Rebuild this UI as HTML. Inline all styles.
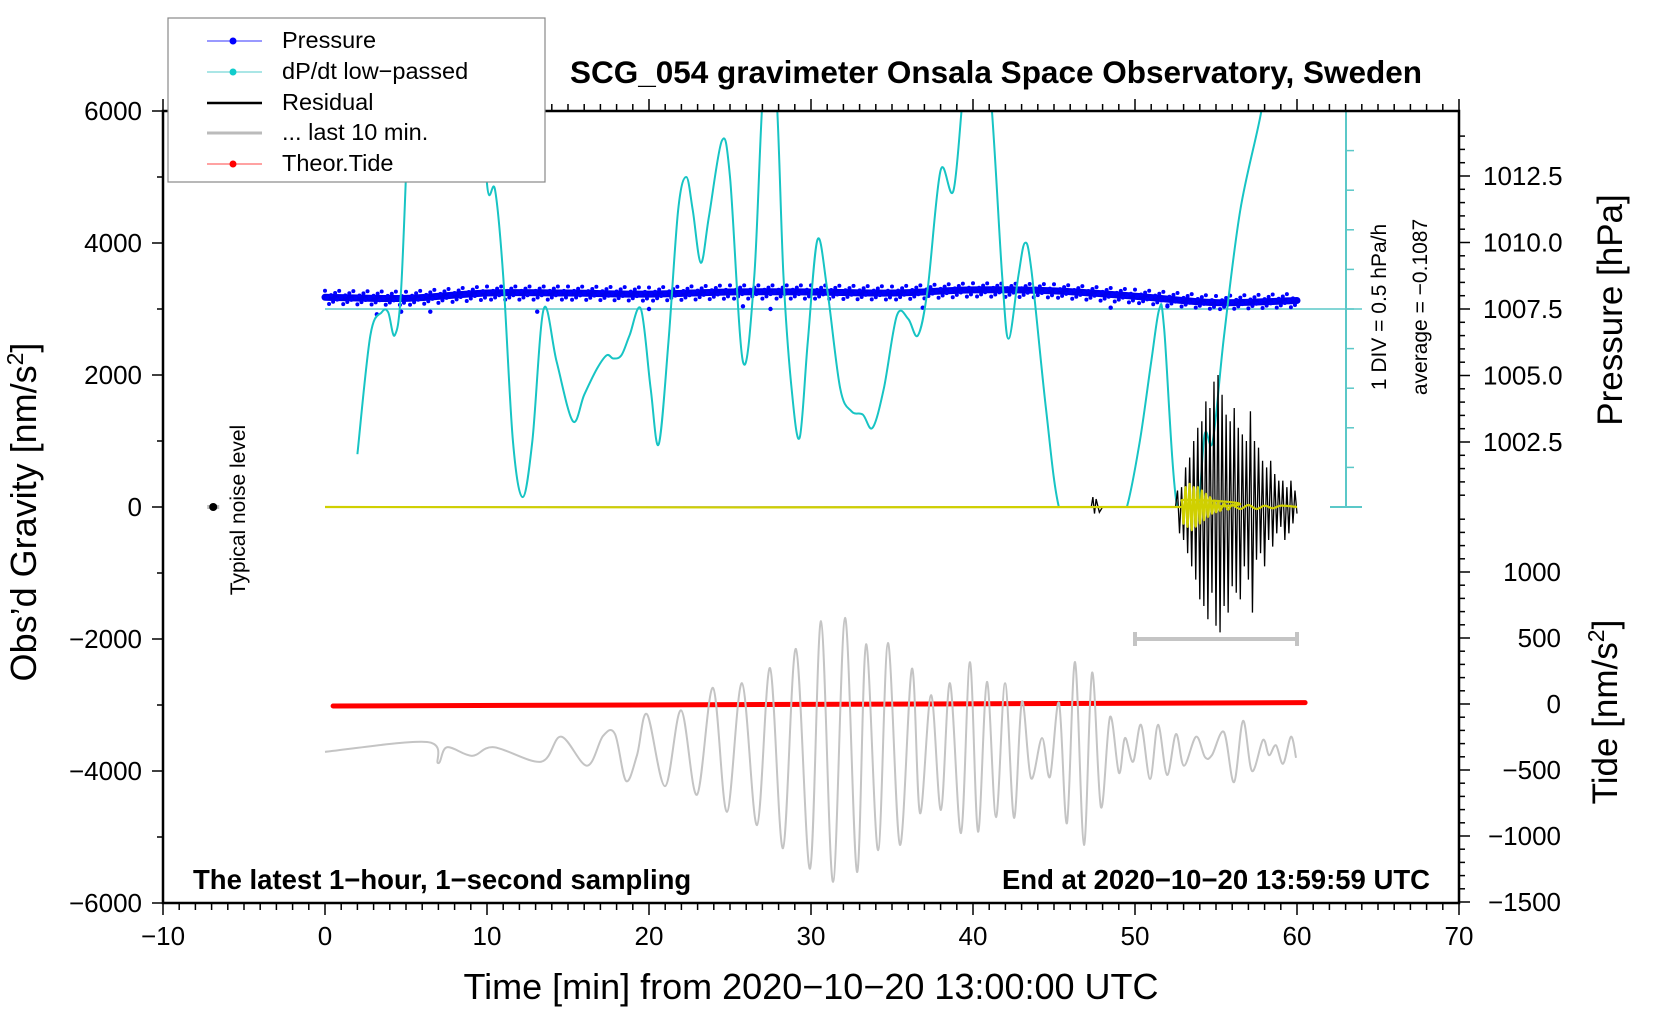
<!DOCTYPE html>
<html><head><meta charset="utf-8"><style>
html,body{margin:0;padding:0;background:#fff;}
svg{display:block;font-family:"Liberation Sans",Arial,sans-serif;}
</style></head><body>
<svg id="chart" width="1660" height="1020" viewBox="0 0 1660 1020" xmlns="http://www.w3.org/2000/svg">
<defs><clipPath id="cyclip"><rect x="163" y="111" width="1296" height="397"/></clipPath></defs>
<g id="marks"></g>
<g id="axes"></g>
<g id="texts">
<text x="996" y="83" font-size="31.5" font-weight="bold" text-anchor="middle">SCG_054 gravimeter Onsala Space Observatory, Sweden</text>
<text x="193" y="889" font-size="27.5" font-weight="bold">The latest 1−hour, 1−second sampling</text>
<text x="1430" y="889" font-size="27.5" font-weight="bold" text-anchor="end">End at 2020−10−20 13:59:59 UTC</text>
<text x="811" y="999" font-size="36" text-anchor="middle">Time [min] from 2020−10−20 13:00:00 UTC</text>
<text transform="translate(36,512) rotate(-90)" font-size="36" text-anchor="middle">Obs’d Gravity [nm/s<tspan font-size="23" dy="-13">2</tspan><tspan dy="13">]</tspan></text>
<text transform="translate(1622,310) rotate(-90)" font-size="35" text-anchor="middle">Pressure [hPa]</text>
<text transform="translate(1617,712) rotate(-90)" font-size="35" text-anchor="middle">Tide [nm/s<tspan font-size="23" dy="-13">2</tspan><tspan dy="13">]</tspan></text>
<text transform="translate(1386,307) rotate(-90)" font-size="21" text-anchor="middle">1 DIV = 0.5 hPa/h</text>
<text transform="translate(1427,307) rotate(-90)" font-size="21" text-anchor="middle">average = −0.1087</text>
<text transform="translate(245,510) rotate(-90)" font-size="21" text-anchor="middle">Typical noise level</text>
</g>
<g id="legend">
<rect x="168" y="18" width="377" height="164" fill="#fff" stroke="#888" stroke-width="1.2"/>
<g><line x1="207" y1="41" x2="262" y2="41" stroke="#33f" stroke-width="1"/><circle cx="233" cy="41" r="3.5" fill="#00f"/><text x="282" y="48" font-size="23.5">Pressure</text></g>
<g><line x1="207" y1="72" x2="262" y2="72" stroke="#5cc" stroke-width="1"/><circle cx="233" cy="72" r="3.5" fill="#1cc"/><text x="282" y="79" font-size="23.5">dP/dt low−passed</text></g>
<g><line x1="207" y1="103" x2="262" y2="103" stroke="#000" stroke-width="2.5"/><text x="282" y="110" font-size="23.5">Residual</text></g>
<g><line x1="207" y1="133" x2="262" y2="133" stroke="#bbb" stroke-width="3"/><text x="282" y="140" font-size="23.5">... last 10 min.</text></g>
<g><line x1="207" y1="164" x2="262" y2="164" stroke="#f44" stroke-width="1"/><circle cx="233" cy="164" r="3.5" fill="#f00"/><text x="282" y="171" font-size="23.5">Theor.Tide</text></g>
</g>
</svg>
<script>
// ---- data ----
const xTicks = [-10,0,10,20,30,40,50,60,70];
const gTicks = [6000,4000,2000,0,-2000,-4000,-6000];
const pTicks = [1012.5,1010.0,1007.5,1005.0,1002.5];
const tideTicks = [1000,500,0,-500,-1000,-1500];
const cyanT = [2,2.8,3.5,3.9,4.3,4.7,5.2,5.6,9.5,10,10.5,11,11.6,12.2,12.8,13.5,14.3,15.3,16,16.8,17.4,17.8,18.3,18.8,19.5,20.1,20.6,21.2,21.8,22.3,22.7,23.2,23.7,24.5,25,25.8,26.5,27.1,27.8,28.3,28.8,29.3,29.8,30.4,31,31.8,32.5,33.2,33.8,34.5,35.3,36,36.6,37.2,38,38.8,39.5,40.2,41,41.8,42.2,42.8,43.2,43.6,44.5,45.3,46.5,48.5,49.5,50.3,51,51.5,51.8,52.6,53.8,54.3,54.8,55.5,56.5,57.8,58.3];
const cyanG = [800,2600,2950,2950,2600,3300,6200,7500,7500,4900,4800,3500,1000,150,1000,3000,2200,1300,1700,2100,2300,2250,2300,2600,3000,1800,950,2500,4500,5000,4500,3700,4400,5550,5000,2200,3500,6500,6500,3500,1800,1050,2500,4050,3300,1800,1450,1400,1200,1800,2900,2850,2600,3300,5100,4800,6500,7000,6500,3500,2550,3500,4000,3600,1500,0,-600,-600,0,1000,2200,3000,2700,0,-100,1100,1000,2600,4500,6000,7000];
const presT = [0,5,10,15,20,25,30,35,40,45,50,55,60];
const presH = [1007.94,1007.90,1008.10,1008.10,1008.06,1008.14,1008.14,1008.10,1008.22,1008.18,1007.98,1007.74,1007.82];
const presOutT = [3.2,4.7,6.5,13.1,20,25.8,27.5,36.9,48.5,52];
const presOutH = [1007.3,1007.4,1007.4,1007.4,1007.5,1007.6,1007.5,1007.55,1007.55,1007.6];
const grayT = [0,6.3,6.98,7.53,9.07,10.43,13.33,14.57,16.17,17.16,17.9,18.58,19.26,19.88,20.99,21.98,22.96,23.95,24.81,25.74,26.67,27.47,28.27,29.07,29.94,30.62,31.36,32.1,32.84,33.4,34.14,34.75,35.49,36.23,36.73,37.41,38.02,38.58,39.26,39.81,40.31,40.86,41.42,41.98,42.53,43.02,43.58,44.26,44.75,45.31,45.8,46.3,46.85,47.35,47.9,48.46,49.01,49.38,49.88,50.37,50.93,51.42,51.98,52.53,53.02,53.77,54.32,54.75,55.49,56.11,56.67,57.22,57.9,58.27,58.7,59.14,59.63,59.94];
const grayG = [-3710,-3560,-3880,-3640,-3770,-3640,-3860,-3480,-3920,-3470,-3440,-4150,-3760,-3140,-4230,-3080,-4360,-2740,-4620,-2670,-4820,-2440,-5170,-2150,-5480,-1730,-5680,-1680,-5530,-2080,-5200,-2060,-5120,-2450,-4640,-2850,-4590,-2670,-4940,-2350,-4920,-2650,-4700,-2670,-4710,-2950,-4110,-3500,-4090,-2970,-4790,-2350,-5120,-2510,-4550,-3180,-4030,-3500,-3860,-3300,-4120,-3300,-4060,-3440,-3920,-3480,-3790,-3760,-3410,-4170,-3240,-4000,-3530,-3760,-3610,-3890,-3480,-3800];
const resT = [0,47.3,47.4,47.5,47.6,47.8,48,52.5,52.625,52.75,52.875,53,53.125,53.25,53.375,53.5,53.625,53.75,53.875,54,54.125,54.25,54.375,54.5,54.625,54.75,54.875,55,55.125,55.25,55.375,55.5,55.625,55.75,55.875,56,56.125,56.25,56.375,56.5,56.625,56.75,56.875,57,57.125,57.25,57.375,57.5,57.625,57.75,57.875,58,58.125,58.25,58.375,58.5,58.625,58.75,58.875,59,59.125,59.25,59.375,59.5,59.625,59.75,59.875,60];
const resG = [0,0,150,-100,120,-80,0,0,250,-400,300,-500,600,-700,750,-900,1000,-1100,1200,-1400,1300,-1500,1600,-1700,1500,-1300,1900,-1800,2000,-1900,1700,-1500,1400,-1600,1300,-1200,1500,-1300,1200,-1400,1100,-900,1000,-1100,1450,-1600,1000,-800,900,-700,700,-900,600,-500,700,-600,500,-400,400,-300,400,-500,300,-400,400,-250,250,-100];
const yelT = [0,52.5,52.875,53,53.125,53.25,53.375,53.5,53.625,53.75,53.875,54,54.125,54.25,54.375,54.5,54.625,54.75,54.875,55,55.125,55.25,55.5,55.75,56,56.5,57,57.5,58,58.5,59,60];
const yelG = [0,0,100,-250,300,-300,350,-350,300,-300,300,-250,250,-200,200,-150,150,-100,100,-80,80,-60,50,-40,30,-30,30,-30,20,-20,20,0];
const tideT = [0.5,60.5];
const tideV = [-15,10];
const noiseT = [-6.9];
const noiseG = [0];
const barT = [50,60];
const barG = [-2000,-2000];

// ---- scales ----
const X = t => 325 + t*16.2;
const Yg = g => 507 - g*0.066;
const Yp = p => 309 - (p-1007.5)*26.6;
const Yt = v => 704 - v*0.132;
const NS = 'http://www.w3.org/2000/svg';
const marks = document.getElementById('marks');
const axes = document.getElementById('axes');
function mk(tag, attrs, parent){const e=document.createElementNS(NS,tag);for(const k in attrs)e.setAttribute(k,attrs[k]);(parent||marks).appendChild(e);return e;}
function smooth(pts){let d='M'+pts[0][0]+','+pts[0][1];for(let i=0;i<pts.length-1;i++){const p0=pts[Math.max(0,i-1)],p1=pts[i],p2=pts[i+1],p3=pts[Math.min(pts.length-1,i+2)];const c1x=p1[0]+(p2[0]-p0[0])/6,c1y=p1[1]+(p2[1]-p0[1])/6,c2x=p2[0]-(p3[0]-p1[0])/6,c2y=p2[1]-(p3[1]-p1[1])/6;d+=' C'+c1x+','+c1y+' '+c2x+','+c2y+' '+p2[0]+','+p2[1];}return d;}

let e;
e=mk('line',{x1:325,y1:Yp(1007.5),x2:1362,y2:Yp(1007.5),stroke:'#5bc8c8','stroke-width':1.5});


e=mk('line',{x1:1346,y1:111,x2:1346,y2:507,stroke:'#5bc8c8','stroke-width':2});


e=mk('line',{x1:1330,y1:507,x2:1362,y2:507,stroke:'#5bc8c8','stroke-width':2});


for(let i=0;i<=10;i++){const y=111+i*39.6;e=mk('line',{x1:1346,y1:y,x2:1354,y2:y,stroke:'#5bc8c8','stroke-width':1.5});

}

// pressure
const pp = presT.map((t,i)=>[X(t),Yp(presH[i])]);
e=mk('path',{d:smooth(pp),fill:'none',stroke:'#0000ee','stroke-width':7,'stroke-linecap':'round'});


presT.forEach((t,i)=>{if(i<presT.length-1){for(let k=0;k<40;k++){const tt=t+(presT[i+1]-t)*k/40,h=presH[i]+(presH[i+1]-presH[i])*k/40;const c=mk('circle',{cx:X(tt),cy:Yp(h)+((k*3%7)-3)*2.2,r:2,fill:'#00f'});

}}});
presOutT.forEach((t,i)=>{const c=mk('circle',{cx:X(t),cy:Yp(presOutH[i]),r:2.2,fill:'#00f'});

});

// cyan dP/dt
e=mk('path',{d:smooth(cyanT.map((t,i)=>[X(t),Yg(cyanG[i])])),fill:'none',stroke:'#17c4c4','stroke-width':2,'clip-path':'url(#cyclip)'});



// tide
e=mk('line',{x1:X(tideT[0]),y1:Yt(tideV[0]),x2:X(tideT[1]),y2:Yt(tideV[1]),stroke:'#f00','stroke-width':5,'stroke-linecap':'round'});



// gray last 10 min
e=mk('path',{d:smooth(grayT.map((t,i)=>[X(t),Yg(grayG[i])])),fill:'none',stroke:'#c4c4c4','stroke-width':2});



// residual
e=mk('polyline',{points:resT.map((t,i)=>X(t)+','+Yg(resG[i])).join(' '),fill:'none',stroke:'#000','stroke-width':1.3});


e=mk('path',{d:smooth(yelT.map((t,i)=>[X(t),Yg(yelG[i])])),fill:'none',stroke:'#d0d000','stroke-width':2.2});



// gray bar
e=mk('g',{});


mk('line',{x1:X(barT[0]),y1:Yg(barG[0]),x2:X(barT[1]),y2:Yg(barG[1]),stroke:'#c4c4c4','stroke-width':4},e);
mk('line',{x1:X(barT[0]),y1:Yg(barG[0])-7,x2:X(barT[0]),y2:Yg(barG[0])+7,stroke:'#c4c4c4','stroke-width':4},e);
mk('line',{x1:X(barT[1]),y1:Yg(barG[1])-7,x2:X(barT[1]),y2:Yg(barG[1])+7,stroke:'#c4c4c4','stroke-width':4},e);

// noise level
e=mk('line',{x1:X(noiseT[0])-6,y1:Yg(noiseG[0]),x2:X(noiseT[0])+6,y2:Yg(noiseG[0]),stroke:'#bbb','stroke-width':4});


e=mk('circle',{cx:X(noiseT[0]),cy:Yg(noiseG[0]),r:4,fill:'#000'});



// ---- axes ----
const L=163,R=1459,T=111,B=903;
e=mk('path',{d:`M${L},${T} H${R} V${B} H${L} Z`,fill:'none',stroke:'#000','stroke-width':2.5},axes);


for(let t=-10;t<=70;t++){const x=X(t),maj=t%10===0;
mk('line',{x1:x,y1:B,x2:x,y2:B+(maj?12:7),stroke:'#000','stroke-width':1.5},axes);
mk('line',{x1:x,y1:T,x2:x,y2:T-(maj?12:7),stroke:'#000','stroke-width':1.5},axes);}
xTicks.forEach(t=>{const tx=mk('text',{x:X(t),y:945,'font-size':26,'text-anchor':'middle'},axes);tx.textContent=String(t).replace('-','−');

});
for(let g=-6000;g<=6000;g+=1000){const y=Yg(g);mk('line',{x1:L,y1:y,x2:L-(g%2000===0?11:6),y2:y,stroke:'#000','stroke-width':1.5},axes);}
gTicks.forEach(g=>{const tx=mk('text',{x:142,y:Yg(g)+9,'font-size':26,'text-anchor':'end'},axes);tx.textContent=String(g).replace('-','−');

});
for(let p=1000;p<=1014;p+=0.5){const y=Yp(p);if(y<T-8||y>507)continue;const maj=Math.abs((p*2)%5)<1e-6;mk('line',{x1:R,y1:y,x2:R+(maj?11:6),y2:y,stroke:'#000','stroke-width':1.5},axes);}
pTicks.forEach(p=>{const tx=mk('text',{x:1483,y:Yp(p)+9,'font-size':26},axes);tx.textContent=p.toFixed(1);

});
for(let v=-1500;v<=1400;v+=100){const y=Yt(v);if(y<515)continue;mk('line',{x1:R,y1:y,x2:R+(v%500===0?11:6),y2:y,stroke:'#000','stroke-width':1.5},axes);}
tideTicks.forEach(v=>{const tx=mk('text',{x:1561,y:Yt(v)+9,'font-size':26,'text-anchor':'end'},axes);tx.textContent=String(v).replace('-','−');

});
</script>
</body></html>
